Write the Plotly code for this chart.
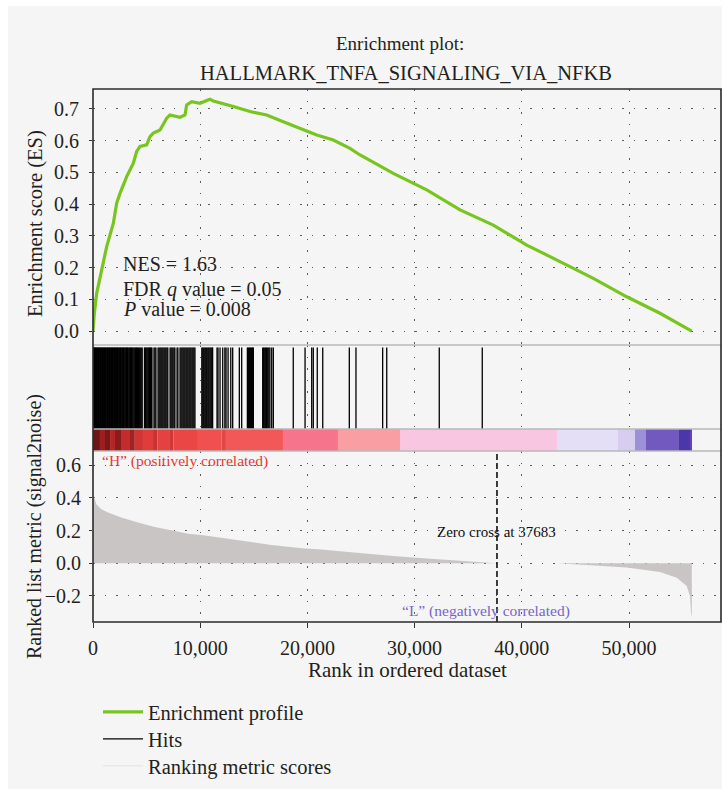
import plotly.graph_objects as go
from plotly.subplots import make_subplots

# ---- data -------------------------------------------------------------
gene_set = "HALLMARK_TNFA_SIGNALING_VIA_NFKB"
n_genes = 55860
rank_axis_max = 58580
zero_cross = 37683
nes = 1.63
fdr_q = 0.05
p_value = 0.008

rank_ticks = [0, 10000, 20000, 30000, 40000, 50000]
es_ticks = [0.0, 0.1, 0.2, 0.3, 0.4, 0.5, 0.6, 0.7]
metric_ticks = [-0.2, 0.0, 0.2, 0.4, 0.6]

# running enrichment score
es_rank = [0, 124, 342, 653, 1275, 1897, 2208, 2519, 3141, 3762, 4073, 4384,
           5006, 5317, 5628, 6250, 6561, 6872, 7183, 7493, 8115, 8582, 8737,
           9204, 9981, 10603, 10914, 11225, 11847, 13090, 14650, 16200, 17750,
           19310, 20870, 22420, 23970, 24910, 28010, 31130, 34240, 37340,
           40460, 43560, 46670, 49790, 52890, 55850]
es_score = [0.0, 0.056, 0.119, 0.171, 0.266, 0.340, 0.403, 0.434, 0.487, 0.529,
            0.566, 0.582, 0.587, 0.613, 0.624, 0.634, 0.655, 0.671, 0.681,
            0.678, 0.674, 0.681, 0.713, 0.723, 0.718, 0.727, 0.731, 0.725,
            0.720, 0.708, 0.692, 0.681, 0.660, 0.639, 0.618, 0.602, 0.576,
            0.555, 0.497, 0.445, 0.382, 0.334, 0.271, 0.219, 0.166, 0.108,
            0.056, 0.0]

# positions of gene-set members in the ranked list
hit_ranks = [12, 45, 98, 150, 210, 260, 330, 390, 450, 520, 580, 640, 700, 770,
             830, 900, 960, 1030, 1090, 1150, 1220, 1290, 1350, 1420, 1480,
             1550, 1610, 1680, 1740, 1810, 1880, 1940, 2010, 2080, 2150, 2210,
             2280, 2350, 2420, 2490, 2560, 2630, 2700, 2770, 2840, 2910, 2990,
             3060, 3130, 3210, 3280, 3360, 3430, 3510, 3590, 3660, 3740, 3820,
             3900, 3980, 4060, 4140, 4230, 4320, 4410, 4500, 4590,
             4800, 4880, 4960, 5040, 5120, 5200, 5280, 5360, 5440, 5500,
             5690, 5780, 5870,
             6070, 6160, 6250, 6340, 6430, 6520, 6620, 6710, 6800, 6900, 6980,
             7190, 7280, 7370, 7460, 7560, 7640, 7840, 7920,
             8120, 8210, 8300, 8400, 8490, 8580, 8680, 8770, 8860, 8960, 9050,
             9140, 9240, 9330, 9420, 9510,
             10150, 10240, 10330, 10430, 10520, 10610, 10710, 10800, 10900,
             10990, 11080, 11160, 11570, 11660, 11850, 12100, 12300, 12410,
             12600, 12850, 13030, 13650, 13870,
             14400, 14500, 14590, 14680, 14780, 14870, 14960,
             15830, 15920, 16020, 16110, 16200, 16300, 16400, 16500, 16670,
             16820, 18680, 19780, 20400, 20550, 20920, 21430, 23910, 24530,
             27020, 27400, 32300, 36310]

# ranked list metric (signal2noise)
metric_rank = [0, 93, 308, 774, 1400, 2640, 4200, 5760, 7300, 8860, 10100,
               11970, 13530, 15080, 16630, 18190, 19750, 20990, 24910, 28010,
               31130, 34230, 37683, 43310, 46670, 49780, 52890, 54450, 55380,
               55690, 55780, 55860]
metric_value = [0.42, 0.41, 0.36, 0.33, 0.31, 0.28, 0.249, 0.222, 0.202, 0.181,
                0.173, 0.157, 0.141, 0.127, 0.112, 0.100, 0.090, 0.086, 0.061,
                0.045, 0.029, 0.014, 0.0, 0.0, -0.012, -0.026, -0.053, -0.088,
                -0.139, -0.2, -0.30, -0.33]

# colour-coded ranked list (segment start, end, colour)
band_start = [0, 650, 1120, 1590, 2050, 2610, 3450, 3900, 4660, 5600, 6000,
              7180, 7500, 9790, 12000, 12400, 17720, 22850, 28640, 43280,
              48970, 50560, 51580, 54660, 55780]
band_end = [650, 1120, 1590, 2050, 2610, 3450, 3900, 4660, 5600, 6000, 7180,
            7500, 9790, 12000, 12400, 17720, 22850, 28640, 43280, 48970,
            50560, 51580, 54660, 55780, 55860]
band_color = ["#6e1414", "#9c1e1e", "#7a1818", "#b42626", "#8c1c1c", "#c22c2c",
              "#a02222", "#d23434", "#e03c3c", "#c83232", "#e44242", "#d03838",
              "#ea4646", "#f05050", "#e04848", "#f25858", "#f7758c", "#f99ea2",
              "#f8c6e0", "#e4dff6", "#d6cdf1", "#9c90d9", "#7259bf", "#4b37a8",
              "#6a3fc0"]

# ---- style -------------------------------------------------------------
FONT = "Liberation Serif"
INK = "#231f20"
GREEN = "#78c51f"
GRID = dict(showgrid=True, gridcolor="#5a5a5a", gridwidth=1.1,
            griddash="1.5px,10px")

fig = make_subplots(rows=4, cols=1, shared_xaxes=True, vertical_spacing=0,
                    row_heights=[256 / 533, 84 / 533, 22 / 533, 171 / 533])

fig.add_trace(go.Scatter(x=es_rank, y=es_score, mode="lines",
                         name="Enrichment profile", legend="legend",
                         line=dict(color=GREEN, width=3.2)), row=1, col=1)

hx, hy = [], []
for r in hit_ranks:
    hx += [r, r, None]
    hy += [0, 1, None]
fig.add_trace(go.Scatter(x=hx, y=hy, mode="lines", name="Hits",
                         legend="legend2",
                         line=dict(color="#000000", width=1.3)), row=2, col=1)

fig.add_trace(go.Bar(orientation="h", base=band_start,
                     x=[e - s for s, e in zip(band_start, band_end)],
                     y=[0] * len(band_start), width=1.0,
                     marker=dict(color=band_color, line=dict(width=0)),
                     showlegend=False, hoverinfo="skip"), row=3, col=1)

fig.add_trace(go.Scatter(x=metric_rank, y=metric_value, mode="lines",
                         fill="tozeroy", fillcolor="#c9c5c5",
                         line=dict(width=0, color="#c9c5c5"),
                         showlegend=False), row=4, col=1)
fig.add_trace(go.Scatter(x=[None], y=[None], mode="lines",
                         name="Ranking metric scores", legend="legend3",
                         line=dict(color="#e2e2e2", width=1)), row=4, col=1)

# zero-crossing marker
fig.add_shape(type="line", xref="x4", yref="y4 domain",
              x0=zero_cross, x1=zero_cross, y0=0, y1=1,
              line=dict(color="#000000", width=1.5, dash="6px,3px"))

# axes
fig.update_xaxes(range=[0, rank_axis_max], tickvals=rank_ticks, zeroline=False,
                 showticklabels=False, ticks="", automargin=False, **GRID)
fig.update_xaxes(showticklabels=True, tickformat=",d", ticks="outside",
                 ticklen=5, tickcolor="#333", ticklabelstandoff=3,
                 tickfont=dict(family=FONT, size=20, color=INK), row=4, col=1)
fig.update_xaxes(showgrid=False, row=3, col=1)

fig.update_yaxes(automargin=False)
fig.update_yaxes(range=[-0.044, 0.763], tickvals=es_ticks, tickformat=".1f",
                 zeroline=False, ticks="outside", ticklen=3, tickcolor="#333",
                 ticklabelstandoff=6,
                 tickfont=dict(family=FONT, size=20, color=INK), **GRID,
                 row=1, col=1)
fig.update_yaxes(range=[0, 1.03], showgrid=False, zeroline=False,
                 showticklabels=False, row=2, col=1)
fig.update_yaxes(range=[-0.5, 0.5], showgrid=False, zeroline=False,
                 showticklabels=False, row=3, col=1)
fig.update_yaxes(range=[-0.359, 0.686], tickvals=metric_ticks, tickformat=".1f",
                 zeroline=False, ticks="outside", ticklen=3, tickcolor="#333",
                 ticklabelstandoff=4,
                 tickfont=dict(family=FONT, size=20, color=INK), **GRID,
                 row=4, col=1)

# frame, panel separators and page background
shapes = [
    dict(type="rect", xref="paper", yref="paper", x0=-0.1354, x1=1.0016,
         y0=-0.3133, y1=1.1557, fillcolor="#f5f5f5", line=dict(width=0),
         layer="below"),
]
for yy in [(622 - 345) / 533, (622 - 429) / 533, (622 - 451) / 533]:
    shapes.append(dict(type="line", xref="paper", yref="paper", x0=0, x1=1,
                       y0=yy, y1=yy, line=dict(color="#b8b8b8", width=1.5)))
shapes.append(dict(type="rect", xref="paper", yref="paper", x0=0, x1=1,
                   y0=0, y1=1, line=dict(color="#2b2b2b", width=1.6)))
for s in shapes:
    fig.add_shape(**s)


def paper_text(text, px, py, size, angle=0):
    """Text centred on a pixel position of the page."""
    return dict(text=text, x=(px - 93) / 628, y=(622 - py) / 533,
                xref="paper", yref="paper", xanchor="center",
                yanchor="middle", textangle=angle, showarrow=False,
                font=dict(family=FONT, size=size, color=INK))


ann = [
    paper_text("Enrichment plot:", 400, 43, 19),
    paper_text(gene_set, 406, 73, 20.5),
    paper_text("Enrichment score (ES)", 35, 224, 20.5, -90),
    paper_text("Ranked list metric (signal2noise)", 34, 527, 20, -90),
    paper_text("Rank in ordered dataset", 407, 670, 21),
]
stats = [f"NES = {nes:.2f}", f"FDR <i>q</i> value = {fdr_q:.2f}",
         f"<i>P</i> value = {p_value:.3f}"]
for txt, yy in zip(stats, [0.211, 0.1325, 0.069]):
    ann.append(dict(text=txt, x=2600, y=yy, xref="x", yref="y",
                    xanchor="left", yanchor="middle", showarrow=False,
                    font=dict(family=FONT, size=20, color=INK)))
ann.append(dict(text="\u201cH\u201d (positively correlated)", x=650, y=0.624,
                xref="x4", yref="y4", xanchor="left", yanchor="middle",
                showarrow=False,
                font=dict(family=FONT, size=15.5, color="#e23a32")))
ann.append(dict(text="\u201cL\u201d (negatively correlated)", x=28640, y=-0.294,
                xref="x4", yref="y4", xanchor="left", yanchor="middle",
                showarrow=False,
                font=dict(family=FONT, size=15.5, color="#7566c6")))
ann.append(dict(text=f"Zero cross at {zero_cross}", x=zero_cross, y=0.19,
                xref="x4", yref="y4", xanchor="center", yanchor="middle",
                showarrow=False,
                font=dict(family=FONT, size=15, color="#111111")))


def legend_box(py):
    """One legend entry centred on a pixel row below the plot."""
    return dict(x=(98 - 93) / 628, y=(622 - py) / 533, xanchor="left",
                yanchor="middle", bgcolor="rgba(0,0,0,0)", itemwidth=40,
                font=dict(family=FONT, size=20.5, color=INK))


fig.update_layout(
    width=722, height=789,
    margin=dict(l=93, r=1, t=89, b=167, pad=0, autoexpand=False),
    paper_bgcolor="#ffffff", plot_bgcolor="#ffffff",
    annotations=ann,
    showlegend=True,
    legend=legend_box(712),
    legend2=legend_box(739),
    legend3=legend_box(766),
)

fig.write_html("out.html")
